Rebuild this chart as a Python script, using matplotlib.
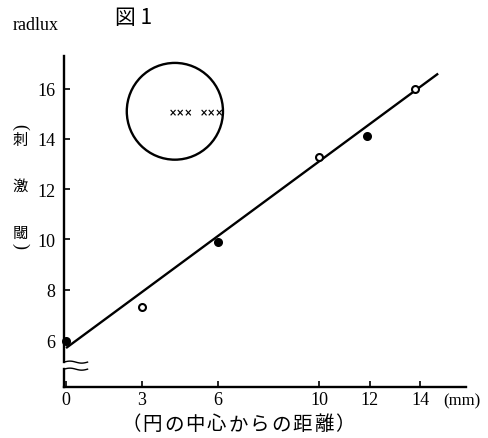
import matplotlib
matplotlib.use("Agg")
import matplotlib.pyplot as plt
from matplotlib.patches import Ellipse
import numpy as np

# data
dist_mm = [0, 3, 6, 10, 11.9, 13.8]
threshold = [5.95, 7.3, 9.9, 13.3, 14.1, 16.0]
filled = [True, False, True, False, True, False]
fit_x = [0, 14.7]
fit_y = [5.68, 16.6]
xticks = [0, 3, 6, 10, 12, 14]
yticks = [6, 8, 10, 12, 14, 16]
xlabel_text = '（円の中心からの距離）'

serif = ['Liberation Serif', 'DejaVu Serif']
cjk = ['Noto Sans CJK JP', 'DejaVu Sans']

W, H = 488, 439
fig = plt.figure(figsize=(W/100, H/100), dpi=100)
x0, x1 = 64, 466
y0, y1 = 57, 388
ax = fig.add_axes([x0/W, 1 - y1/H, (x1-x0)/W, (y1-y0)/H])
ax.set_xlim(-0.08, 15.8)
ax.set_ylim(4.13, 17.3)

ax.plot(fit_x, fit_y, color='black', lw=1.7, solid_capstyle='butt')
for xv, yv, f in zip(dist_mm, threshold, filled):
    ax.plot(xv, yv, 'o', ms=5, mfc='black' if f else 'white', mec='black', mew=1.5, clip_on=False)

# inset circle with crosses
ax.add_patch(Ellipse((4.3, 15.1), 3.8, 3.85, fill=False, ec='black', lw=1.7))
ax.text(4.55, 15.05, '×××', fontsize=7, family=['DejaVu Sans'], ha='center', va='center',
        fontweight='bold')
ax.text(5.75, 15.05, '×××', fontsize=7, family=['DejaVu Sans'], ha='center', va='center',
        fontweight='bold')

for s in ['top', 'right']:
    ax.spines[s].set_visible(False)
ax.spines['left'].set_bounds(5.12, 17.3)
ax.spines['left'].set_linewidth(1.7)
ax.spines['bottom'].set_linewidth(1.7)
ax.plot([-0.08, -0.08], [4.13, 4.84], color='black', lw=1.7, clip_on=False)
wx = np.linspace(-0.08, 0.85, 30)
for yb in [5.12, 4.84]:
    ax.plot(wx, yb + 0.04*np.sin((wx+0.08)/0.93*2*np.pi), color='black', lw=1.0, clip_on=False)

ax.set_xticks(xticks)
ax.set_yticks(yticks)
ax.tick_params(direction='in', length=4, width=1.2, labelsize=13)
ax.tick_params(axis='x', pad=3)
ax.tick_params(axis='y', pad=6)
for lab in ax.get_xticklabels() + ax.get_yticklabels():
    lab.set_family(serif)

fig.text(13/W, 1 - 25/H, 'radlux', fontsize=13, family=serif, ha='left', va='center')
fig.text(115/W, 1 - 18/H, '図 1', fontsize=15, family=cjk, ha='left', va='center')

# vertical y label
for ch, yy in [('刺', 140), ('激', 186), ('閾', 233)]:
    fig.text(20/W, 1 - yy/H, ch, fontsize=11, family=cjk, ha='center', va='center')
fig.text(20/W, 1 - 127/H, '(', fontsize=13, family=serif, ha='center', va='center', rotation=-90)
fig.text(20/W, 1 - 246/H, ')', fontsize=13, family=serif, ha='center', va='center', rotation=-90)

# spaced x label
for i, ch in enumerate(xlabel_text):
    fig.text((131 + 21.4*i)/W, 1 - 425/H, ch, fontsize=14, family=cjk, ha='center', va='center')
fig.text(462/W, 1 - 401/H, '(mm)', fontsize=12, family=serif, ha='center', va='center')

fig.savefig('out.png', dpi=100)
